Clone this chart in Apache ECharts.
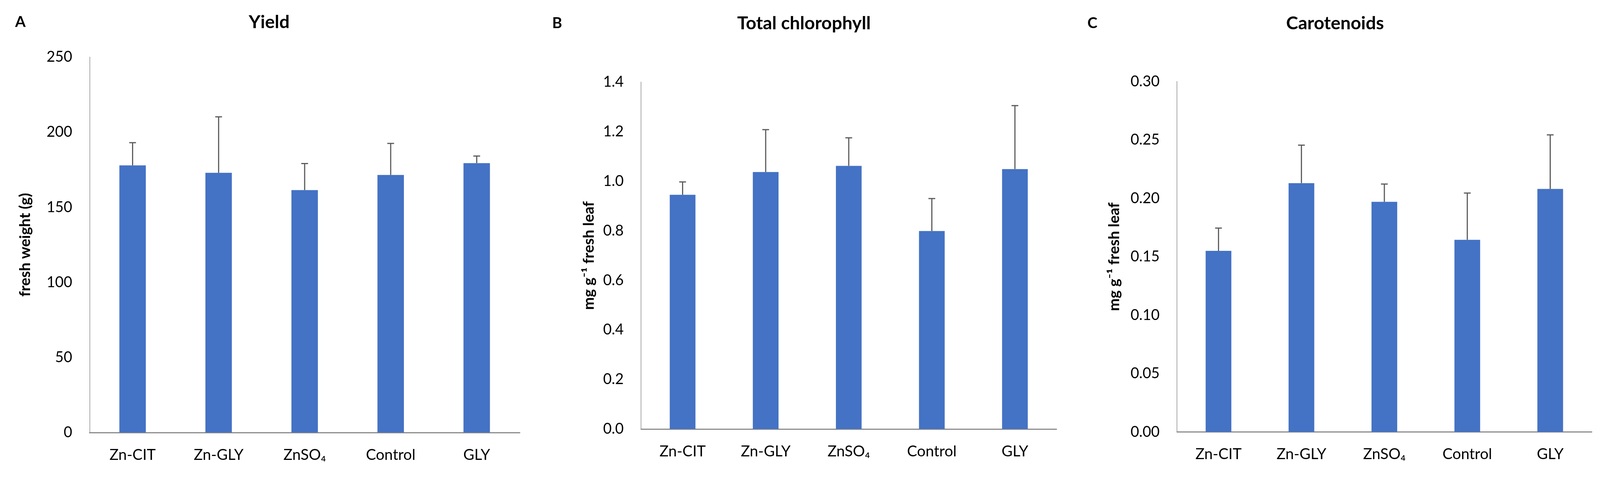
<!DOCTYPE html>
<html>
<head>
<meta charset="utf-8">
<script src="https://cdn.jsdelivr.net/npm/echarts@6/dist/echarts.min.js"></script>
<style>
html,body{margin:0;padding:0;background:#fff;overflow:hidden;}
#chart{width:100vw;height:100vh;}
</style>
</head>
<body>
<div id="chart"></div>
<script>
// ---- data ----
var categories = ['Zn-CIT', 'Zn-GLY', 'ZnSO\u2084', 'Control', 'GLY'];

var yieldMean = [177.9, 172.9, 161.4, 171.5, 179.4];
var yieldSD   = [15.1, 37.3, 17.7, 21.0, 4.7];

var chlMean = [0.945, 1.037, 1.062, 0.799, 1.049];
var chlSD   = [0.052, 0.171, 0.113, 0.131, 0.256];

var carMean = [0.155, 0.213, 0.197, 0.1645, 0.208];
var carSD   = [0.0195, 0.0325, 0.0152, 0.040, 0.0463];

var panelTitles = ['Yield', 'Total chlorophyll', 'Carotenoids'];
var panelLetters = ['A', 'B', 'C'];
var yNames = ['fresh weight (g)', 'mg g\u207B\u00B9 fresh leaf', 'mg g\u207B\u00B9 fresh leaf'];

// ---- styles / layout (designed for 4233 x 1231, scaled to actual size) ----
var el = document.getElementById('chart');
var W = el.clientWidth || 4233, H = el.clientHeight || 1231;
var sx = W / 4233, sy = H / 1231, sf = Math.min(sx, sy);

var FONT = 'Lato, "Open Sans", sans-serif';
var BAR_COLOR = '#4472C4';
var ERR_COLOR = '#595959';

var gridsBase = [
  {left: 237, top: 146, width: 1138, height: 961},
  {left: 1696, top: 210, width: 1099, height: 888},
  {left: 3114, top: 208.5, width: 1097, height: 897}
];
var grids = gridsBase.map(function(g){
  return {left: g.left * sx, top: g.top * sy, width: g.width * sx, height: g.height * sy, containLabel: false};
});
var yAxisCfg = [
  {min: 0, max: 250, interval: 50, fmt: function(v){return String(v);}, nameGap: 150},
  {min: 0, max: 1.4, interval: 0.2, fmt: function(v){return v.toFixed(1);}, nameGap: 118},
  {min: 0, max: 0.30, interval: 0.05, fmt: function(v){return v.toFixed(2);}, nameGap: 146}
];
var barWidths = [70, 68, 68];
var means = [yieldMean, chlMean, carMean];
var sds = [yieldSD, chlSD, carSD];

var titlePos = [
  {lx: 54, tx: 712, y: 57},
  {lx: 1474, tx: 2127, y: 60},
  {lx: 2890, tx: 3532, y: 60}
];

var option = {
  backgroundColor: '#ffffff',
  animation: false,
  grid: grids,
  xAxis: grids.map(function(g, i){
    return {
      type: 'category', gridIndex: i, data: categories,
      axisLine: {show: true, lineStyle: {color: '#8c8c8c', width: 3 * sf}},
      axisTick: {show: false},
      axisLabel: {color: '#000', fontFamily: FONT, fontSize: 40 * sf, margin: 38 * sy}
    };
  }),
  yAxis: yAxisCfg.map(function(c, i){
    return {
      type: 'value', gridIndex: i, min: c.min, max: c.max, interval: c.interval,
      name: yNames[i], nameLocation: 'middle', nameGap: c.nameGap * sx,
      nameTextStyle: {color: '#000', fontFamily: FONT, fontSize: 40 * sf, fontWeight: 'bold'},
      axisLine: {show: true, lineStyle: {color: '#a6a6a6', width: 2 * sf}},
      axisTick: {show: false},
      splitLine: {show: false},
      axisLabel: {color: '#000', fontFamily: FONT, fontSize: 39 * sf, margin: 46 * sx, formatter: c.fmt}
    };
  }),
  graphic: [],
  series: []
};

titlePos.forEach(function(p, i){
  option.graphic.push({type: 'text', x: p.lx * sx, y: p.y * sy, style: {
    text: panelLetters[i], fill: '#000', font: 'bold ' + (40 * sf) + 'px ' + FONT,
    textAlign: 'center', textVerticalAlign: 'middle'}});
  option.graphic.push({type: 'text', x: p.tx * sx, y: p.y * sy, style: {
    text: panelTitles[i], fill: '#000', font: 'bold ' + (48 * sf) + 'px ' + FONT,
    textAlign: 'center', textVerticalAlign: 'middle'}});
});

function errorRender(params, api){
  var x = api.value(0);
  var base = api.coord([x, api.value(1)]);
  var top = api.coord([x, api.value(2)]);
  var hw = 9 * sx;
  return {
    type: 'group',
    children: [
      {type: 'line', shape: {x1: base[0], y1: base[1], x2: top[0], y2: top[1]},
       style: {stroke: ERR_COLOR, lineWidth: 3 * sf}},
      {type: 'line', shape: {x1: top[0] - hw, y1: top[1], x2: top[0] + hw, y2: top[1]},
       style: {stroke: ERR_COLOR, lineWidth: 3 * sf}}
    ]
  };
}

for (var i = 0; i < 3; i++) {
  option.series.push({
    type: 'bar', xAxisIndex: i, yAxisIndex: i, data: means[i],
    barWidth: barWidths[i] * sx, itemStyle: {color: BAR_COLOR}
  });
  option.series.push({
    type: 'custom', xAxisIndex: i, yAxisIndex: i, renderItem: errorRender, z: 3,
    data: means[i].map(function(m, k){ return [k, m, m + sds[i][k]]; })
  });
}

var chart = echarts.init(el, null, {renderer: 'canvas'});
chart.setOption(option);
</script>
</body>
</html>
